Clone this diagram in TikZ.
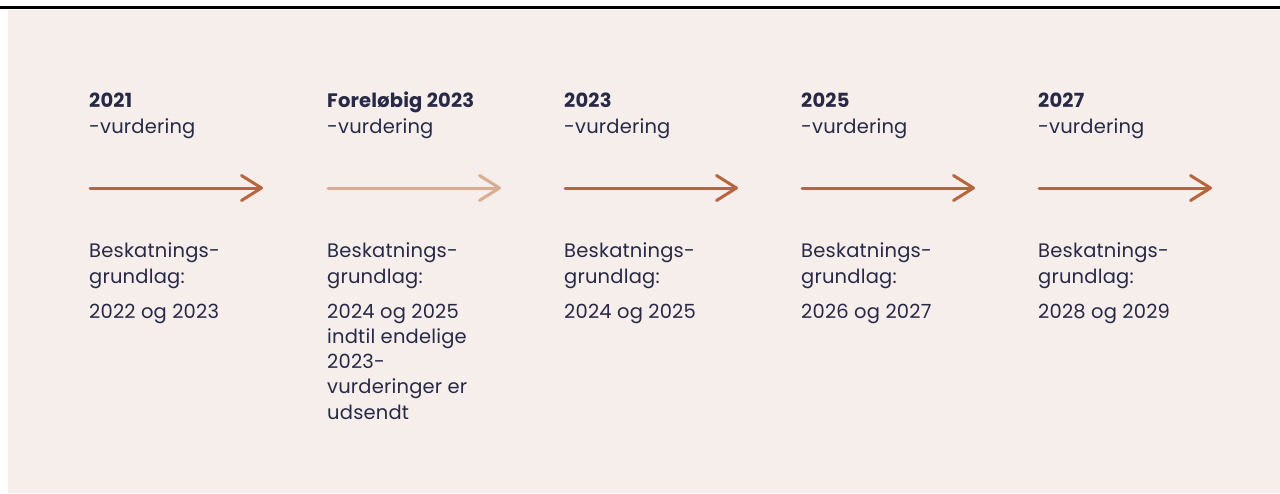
\documentclass[tikz,border=0pt]{standalone}
\usepackage{fontspec}
\setmainfont{Poppins}[LetterSpace=1]
\usetikzlibrary{arrows.meta}
\definecolor{panelbg}{HTML}{F6EEEB}
\definecolor{arrowbrown}{HTML}{B8653E}
\definecolor{arrowlight}{HTML}{D8AD92}
\definecolor{inknavy}{HTML}{272947}
\begin{document}
\begin{tikzpicture}[x=1pt,y=-1pt,
  txt/.style={anchor=base west,inner sep=0pt,text=inknavy,font=\fontsize{19.5}{25}\selectfont},
  head/.style={txt,font=\fontsize{19.5}{25}\selectfont\bfseries},
  tl/.style={line width=3pt,line cap=round,-{Straight Barb[length=20pt,width=25pt,line join=round,line cap=round]}}]
  % canvas and background panel
  \useasboundingbox (0,0) rectangle (1280,493);
  \fill[white] (0,0) rectangle (1280,493);
  \fill[panelbg] (8,10) rectangle (1280,493);
  \fill[black] (0,6) rectangle (1280,9);

  % five columns of the timeline
  \foreach \i/\x/\yr/\col/\yrs in {1/89/2021/arrowbrown/2022 og 2023,
                                 2/327/Foreløbig 2023/arrowlight/2024 og 2025,
                                 3/564/2023/arrowbrown/2024 og 2025,
                                 4/801/2025/arrowbrown/2026 og 2027,
                                 5/1038/2027/arrowbrown/2028 og 2029}{
    \node[head] (h\i) at (\x,107) {\yr};
    \node[txt] (v\i) at (\x,133) {-vurdering};
    \coordinate (s\i) at (\x+1,188);
    \coordinate (e\i) at (\x+174,188);
    \draw[tl,draw=\col] (s\i) -- (e\i);
    \node[txt] (b\i) at (\x,257) {Beskatnings-};
    \node[txt] (g\i) at (\x,283) {grundlag:};
    \node[txt] (y\i) at (\x,318) {\yrs};
  }
  % extra note under the preliminary assessment
  \node[txt] (n1) at (327,343) {indtil endelige};
  \node[txt] (n2) at (327,368) {2023-};
  \node[txt] (n3) at (327,393) {vurderinger er};
  \node[txt] (n4) at (327,419) {udsendt};
\end{tikzpicture}
\end{document}
